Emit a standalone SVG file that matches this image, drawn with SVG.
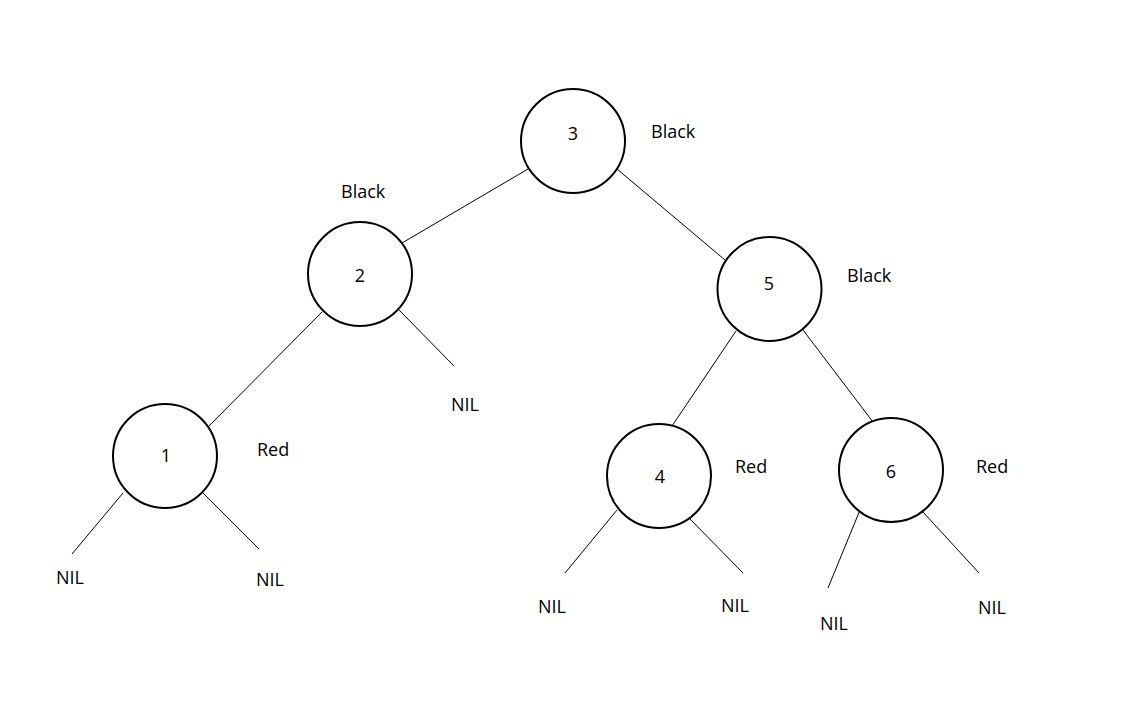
<svg xmlns="http://www.w3.org/2000/svg" width="1134" height="708" viewBox="0 0 1134 708">
<style>
.n{fill:#fff;stroke:#000;stroke-width:2}
.e{stroke:#000;stroke-width:1;fill:none}
text{font-family:"Open Sans","Liberation Sans",sans-serif;font-size:18px;fill:#000}
.c{text-anchor:middle}
</style>
<rect width="1134" height="708" fill="#fff"/>
<g id="connectors">
<line class="e" x1="528" y1="169" x2="402" y2="243"/>
<line class="e" x1="617" y1="169" x2="725" y2="260"/>
<line class="e" x1="322" y1="312" x2="208" y2="427"/>
<line class="e" x1="399" y1="310" x2="454" y2="366"/>
<line class="e" x1="123" y1="493" x2="72" y2="554"/>
<line class="e" x1="203" y1="493" x2="259" y2="549"/>
<line class="e" x1="736" y1="331" x2="672" y2="426"/>
<line class="e" x1="803" y1="330" x2="873" y2="422"/>
<line class="e" x1="617" y1="510" x2="565" y2="573"/>
<line class="e" x1="688" y1="517" x2="743" y2="573"/>
<line class="e" x1="860" y1="510" x2="828" y2="588"/>
<line class="e" x1="923" y1="512" x2="979" y2="573"/>
</g>
<g id="node3"><circle class="n" cx="573" cy="141" r="52"/><text class="c" x="573" y="140">3</text><text x="651" y="138">Black</text></g>
<g id="node2"><circle class="n" cx="360" cy="274" r="52"/><text class="c" x="360" y="282">2</text><text x="341" y="198">Black</text></g>
<g id="node5"><circle class="n" cx="769.5" cy="289" r="52"/><text class="c" x="769" y="290">5</text><text x="847" y="282">Black</text></g>
<g id="node1"><circle class="n" cx="165" cy="456" r="52"/><text class="c" x="166" y="462">1</text><text x="257" y="456">Red</text></g>
<g id="node4"><circle class="n" cx="659" cy="476" r="52"/><text class="c" x="660" y="483">4</text><text x="735" y="473">Red</text></g>
<g id="node6"><circle class="n" cx="891" cy="470" r="52"/><text class="c" x="891" y="478">6</text><text x="976" y="473">Red</text></g>
<g id="nil2r"><text x="451" y="411">NIL</text></g>
<g id="nil1l"><text x="56" y="584">NIL</text></g>
<g id="nil1r"><text x="256" y="586">NIL</text></g>
<g id="nil4l"><text x="538" y="613">NIL</text></g>
<g id="nil4r"><text x="721" y="612">NIL</text></g>
<g id="nil6l"><text x="820" y="630">NIL</text></g>
<g id="nil6r"><text x="978" y="614">NIL</text></g>
</svg>
